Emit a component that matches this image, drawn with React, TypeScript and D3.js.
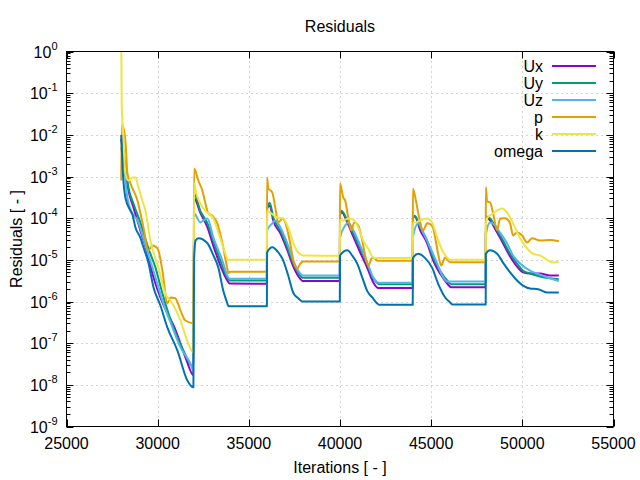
import React from 'react';
import * as d3 from 'd3';

type Pt = [number, number];

const xTicks = [25000, 30000, 35000, 40000, 45000, 50000, 55000];
const yExponents = [0, -1, -2, -3, -4, -5, -6, -7, -8, -9];
const seriesNames = ['Ux', 'Uy', 'Uz', 'p', 'k', 'omega'];
const seriesColors = ['#9400d3', '#009e73', '#56b4e9', '#e69f00', '#f0e442', '#0072b2'];

const Ux: Pt[] = [
  [28000, 8e-3], [28120, 3.2e-3], [28230, 1.4e-3], [28400, 4.6e-4], [28670, 1.8e-4], [29050, 5.1e-5],
  [29440, 1.4e-5], [29770, 3.8e-6], [30150, 1.25e-6], [30530, 5.2e-7], [30920, 2.4e-7], [31250, 9.8e-8],
  [31580, 3.9e-8], [31960, 1.7e-8],
  [32000, 3e-4], [32340, 1.35e-4], [32730, 6e-5], [33050, 2.2e-5], [33440, 7.3e-6], [33820, 3.2e-6], [33950, 2.7e-6], [35990, 2.66e-6],
  [36000, 1.7e-4], [36150, 2e-4], [36340, 8.8e-5], [36730, 4.3e-5], [37110, 1.7e-5], [37440, 6.9e-6], [37820, 3.5e-6], [37950, 3.1e-6], [39990, 3.1e-6],
  [40000, 1.2e-4], [40080, 1.4e-4], [40400, 7.9e-5], [40730, 3.6e-5], [41110, 1.5e-5], [41490, 6.5e-6], [41820, 2.9e-6], [42100, 2.1e-6], [43990, 2.1e-6],
  [44000, 1e-4], [44100, 1.1e-4], [44400, 5.1e-5], [44780, 2.5e-5], [45110, 9.6e-6], [45490, 4.7e-6], [45880, 2.7e-6], [46100, 2.2e-6], [47990, 2.2e-6],
  [48000, 1.1e-4], [48230, 8.8e-5], [48620, 4.5e-5], [48940, 2.5e-5], [49330, 1.2e-5], [49710, 6.9e-6], [50040, 5e-6],
  [50420, 4.7e-6], [50970, 4.7e-6], [51520, 4.2e-6], [52000, 4.2e-6],
];

const Uy: Pt[] = [
  [28000, 8e-3], [28120, 4.2e-3], [28230, 1.8e-3], [28400, 5.4e-4], [28670, 2.25e-4], [29050, 7.9e-5],
  [29490, 1.9e-5], [29880, 6.5e-6], [30260, 1.55e-6], [30860, 2.4e-7], [31410, 6.7e-8], [31960, 2.6e-8],
  [32000, 3.9e-4], [32340, 1.5e-4], [32730, 7.5e-5], [33050, 2.9e-5], [33440, 9.6e-6], [33820, 3.8e-6], [33950, 3.2e-6], [35990, 3.2e-6],
  [36000, 1.8e-4], [36150, 2.3e-4], [36340, 1.04e-4], [36730, 5.1e-5], [37110, 2e-5], [37440, 8.2e-6], [37820, 4.2e-6], [37950, 3.7e-6], [39990, 3.7e-6],
  [40000, 1.2e-4], [40080, 1.5e-4], [40400, 8.8e-5], [40730, 4.3e-5], [41110, 1.9e-5], [41490, 8.2e-6], [41820, 3.6e-6], [42040, 2.8e-6], [42150, 2.6e-6], [43990, 2.6e-6],
  [44000, 1e-4], [44100, 1.15e-4], [44400, 6e-5], [44780, 2.9e-5], [45110, 1.13e-5], [45490, 5.5e-6], [45880, 3.2e-6], [46100, 2.6e-6], [47990, 2.6e-6],
  [48000, 1.1e-4], [48230, 9.8e-5], [48620, 5.1e-5], [48940, 2.9e-5], [49330, 1.4e-5], [49710, 8.2e-6], [50040, 5.5e-6],
  [50420, 4.7e-6], [50970, 4e-6], [51520, 3.6e-6], [52000, 3.4e-6],
];

const Uz: Pt[] = [
  [28000, 5e-3], [28120, 2.4e-3], [28340, 3.1e-4], [28620, 1.3e-4], [28890, 9e-5], [29330, 2.2e-5],
  [29880, 3.8e-6], [30260, 1.05e-6], [30810, 2.4e-7], [31250, 7.9e-8], [31790, 3.3e-8], [31960, 2.2e-8],
  [32000, 1.3e-4], [32340, 7.9e-5], [32510, 8.8e-5], [32730, 9.8e-5], [33050, 3.45e-5], [33550, 9.6e-6], [33820, 4.2e-6], [33950, 3.5e-6], [35990, 3.5e-6],
  [36000, 5.1e-5], [36290, 7.5e-5], [36450, 8.8e-5], [36730, 6e-5], [37110, 2.5e-5], [37440, 9.6e-6], [37820, 4.7e-6], [37950, 4.2e-6], [39990, 4.2e-6],
  [40000, 3.4e-5], [40290, 6.7e-5], [40450, 7.9e-5], [40730, 5.1e-5], [41110, 2.2e-5], [41490, 8.6e-6], [41820, 3.8e-6], [42040, 2.9e-6], [42150, 2.8e-6], [43990, 2.8e-6],
  [44000, 3.4e-5], [44290, 7.5e-5], [44560, 4.5e-5], [44940, 2e-5], [45330, 8.2e-6], [45660, 3.8e-6], [45900, 3e-6], [47990, 3e-6],
  [48000, 4e-5], [48230, 7.9e-5], [48510, 6.7e-5], [48780, 4.5e-5], [49160, 2.5e-5], [49490, 1.27e-5], [49880, 8.2e-6],
  [50420, 5.5e-6], [50970, 4.4e-6], [51520, 3.6e-6], [52000, 3.1e-6],
];

const P: Pt[] = [
  [28000, 8e-4], [28040, 1.8e-2], [28230, 7.3e-3], [28340, 1.2e-3], [28510, 6.8e-4], [28890, 2.65e-4], [29220, 6e-5],
  [29490, 1.7e-5], [29710, 2.2e-5], [29990, 1.9e-5], [30260, 5.5e-6], [30530, 9e-7], [30700, 1.25e-6], [30970, 1.2e-6],
  [31250, 6.1e-7], [31520, 3.5e-7], [31960, 3e-7],
  [32000, 1.55e-3], [32230, 8e-4], [32450, 4.6e-4], [32620, 2.25e-4], [32780, 1.3e-4], [33000, 1.15e-4], [33270, 7.5e-5], [33550, 2.5e-5], [33820, 6.2e-6], [33880, 4.8e-6], [33950, 5.2e-6], [35990, 5.2e-6],
  [36000, 9.5e-4], [36070, 5.2e-4], [36290, 4.1e-4], [36450, 1.8e-4], [36620, 7.9e-5], [36840, 9.8e-5], [37000, 7.9e-5], [37270, 2.5e-5], [37440, 9.6e-6], [37660, 6.2e-6], [37820, 8.1e-6], [37990, 9.1e-6], [39990, 9.1e-6],
  [40000, 6.8e-4], [40180, 3.1e-4], [40290, 2.6e-4], [40450, 1.04e-4], [40620, 5.1e-5], [40780, 7.9e-5], [41000, 6.7e-5], [41220, 2.9e-5], [41380, 1.27e-5], [41550, 7.3e-6], [41770, 1.13e-5], [41930, 1.05e-5], [42050, 9.5e-6], [43990, 9.5e-6],
  [44000, 5.1e-4], [44180, 2.4e-4], [44340, 1.04e-4], [44560, 5.1e-5], [44780, 7.5e-5], [45050, 6.7e-5], [45220, 3.45e-5], [45380, 1.4e-5], [45550, 7.3e-6], [45770, 1.13e-5], [45930, 9.6e-6], [46050, 8.8e-6], [47990, 8.8e-6],
  [48000, 5.5e-4], [48070, 2.5e-4], [48230, 2.4e-4], [48400, 1.3e-4], [48620, 5.1e-5], [48780, 9.8e-5], [49050, 1e-4], [49330, 7.5e-5],
  [49490, 3.85e-5], [49710, 4.5e-5], [49990, 3.85e-5], [50260, 2.6e-5], [50530, 3.3e-5], [50970, 2.9e-5], [51520, 3e-5], [52000, 2.8e-5],
];

const K: Pt[] = [
  [28000, 2], [28030, 5e-2], [28100, 1.3e-2], [28230, 1.2e-3], [28400, 8e-4], [28620, 9.5e-4], [28780, 9.5e-4], [28950, 5.4e-4],
  [29160, 2.65e-4], [29330, 1.5e-4], [29600, 2.9e-5], [30040, 6.5e-6], [30420, 1.55e-6], [30810, 9e-7], [31250, 3.5e-7],
  [31680, 9.8e-8], [31960, 6e-8],
  [32000, 7e-4], [32120, 3.9e-4], [32340, 2.25e-4], [32620, 1.5e-4], [32780, 1.3e-4], [33050, 9.8e-5], [33330, 4.5e-5], [33600, 2e-5], [33880, 1e-5], [35990, 1e-5],
  [36000, 1.5e-4], [36180, 1.35e-4], [36560, 1.04e-4], [36890, 9.8e-5], [37160, 6e-5], [37440, 2.5e-5], [37710, 1.5e-5], [37990, 1.27e-5], [39990, 1.26e-5],
  [40000, 9e-5], [40180, 8.8e-5], [40450, 9.8e-5], [40730, 9.3e-5], [41000, 6e-5], [41270, 2.9e-5], [41550, 1.87e-5], [41820, 1.13e-5], [42000, 1.1e-5], [43990, 1.1e-5],
  [44000, 7.9e-5], [44120, 7.9e-5], [44400, 8.8e-5], [44780, 9.8e-5], [45050, 7.9e-5], [45330, 3.45e-5], [45600, 1.7e-5], [45880, 1.13e-5], [46000, 1.0e-5], [47990, 1.0e-5],
  [48000, 6.7e-5], [48070, 1e-4], [48400, 1.3e-4], [48890, 1.7e-4], [49160, 1.37e-4], [49490, 7.5e-5], [49880, 3.3e-5],
  [50260, 1.87e-5], [50590, 1.4e-5], [50970, 1.27e-5], [51360, 1e-5], [51680, 8.6e-6], [52000, 9e-6],
];

const Omega: Pt[] = [
  [28000, 1e-2], [28080, 1.5e-3], [28230, 3.1e-4], [28510, 1.5e-4], [28620, 1.2e-4], [28780, 6e-5], [29050, 3.4e-5],
  [29220, 2e-5], [29490, 8.6e-6], [29770, 2.2e-6], [30150, 8e-7], [30530, 2.4e-7], [31080, 6.7e-8], [31630, 1.27e-8], [31960, 8.7e-9],
  [32000, 1.1e-5], [32080, 2.9e-5], [32230, 3.3e-5], [32730, 2.5e-5], [33050, 1.3e-5], [33330, 6.5e-6], [33600, 1.8e-6], [33820, 9e-7], [33880, 7.7e-7], [35990, 7.7e-7],
  [36000, 1.5e-5], [36290, 2e-5], [36620, 1.5e-5], [36890, 9.6e-6], [37160, 4.2e-6], [37440, 1.6e-6], [37710, 1.2e-6], [37930, 1.0e-6], [39990, 1.0e-6],
  [40000, 1.27e-5], [40400, 1.7e-5], [40670, 1.27e-5], [40940, 8.2e-6], [41220, 3.8e-6], [41490, 1.8e-6], [41770, 1.25e-6], [42040, 9e-7], [42150, 8.3e-7], [43990, 8.3e-7],
  [44000, 1.1e-5], [44290, 1.4e-5], [44670, 1.1e-5], [45050, 6.5e-6], [45380, 2.7e-6], [45770, 1.25e-6], [46040, 9.5e-7], [46150, 8.5e-7], [47990, 8.5e-7],
  [48000, 1.4e-5], [48230, 1.7e-5], [48620, 1.4e-5], [48940, 8.6e-6], [49330, 5e-6], [49710, 3.2e-6], [50040, 2.4e-6],
  [50420, 2.05e-6], [50810, 2e-6], [51360, 1.65e-6], [52000, 1.65e-6],
];

const seriesData: Pt[][] = [Ux, Uy, Uz, P, K, Omega];

const FONT = '"Liberation Sans", Arial, Helvetica, sans-serif';

export default function App() {
  const W = 640;
  const H = 480;
  const left = 66.5;
  const right = 613.5;
  const top = 51.5;
  const bottom = 426.5;

  const x = d3.scaleLinear().domain([25000, 55000]).range([left, right]);
  const y = d3.scaleLog().domain([1e-9, 1]).range([bottom, top]);
  const line = d3
    .line<Pt>()
    .x((d) => x(d[0]))
    .y((d) => y(d[1]))
    .curve(d3.curveMonotoneX);

  const minorTicks: number[] = [];
  for (let e = -9; e < 0; e++) {
    for (let m = 2; m <= 9; m++) minorTicks.push(m * Math.pow(10, e));
  }

  const gridColor = '#a8a8a8';
  const majorLen = 7;
  const minorLen = 4;

  return (
    <svg
      width={W}
      height={H}
      style={{ position: 'fixed', left: 0, top: 0, background: '#fff' }}
      fontFamily={FONT}
    >
      <defs>
        <clipPath id="plotclip">
          <rect x={left} y={top} width={right - left} height={bottom - top} />
        </clipPath>
      </defs>
      <rect x={0} y={0} width={W} height={H} fill="#fff" />

      {/* grid */}
      <g stroke={gridColor} strokeWidth={1} strokeDasharray="1,4">
        {xTicks.slice(1, -1).map((t) => (
          <line key={'gx' + t} x1={Math.round(x(t)) + 0.5} x2={Math.round(x(t)) + 0.5} y1={top} y2={bottom} />
        ))}
        {yExponents.slice(1, -1).map((e) => (
          <line key={'gy' + e} x1={left} x2={right} y1={Math.round(y(Math.pow(10, e))) + 0.5} y2={Math.round(y(Math.pow(10, e))) + 0.5} />
        ))}
      </g>

      {/* ticks */}
      <g stroke="#000" strokeWidth={1}>
        {xTicks.map((t) => {
          const px = Math.round(x(t)) + 0.5;
          return (
            <g key={'tx' + t}>
              <line x1={px} x2={px} y1={bottom} y2={bottom - majorLen} />
              <line x1={px} x2={px} y1={top} y2={top + majorLen} />
            </g>
          );
        })}
        {yExponents.map((e) => {
          const py = Math.round(y(Math.pow(10, e))) + 0.5;
          return (
            <g key={'ty' + e}>
              <line x1={left} x2={left + majorLen} y1={py} y2={py} />
              <line x1={right} x2={right - majorLen} y1={py} y2={py} />
            </g>
          );
        })}
        {minorTicks.map((v, i) => {
          const py = Math.round(y(v)) + 0.5;
          return (
            <g key={'mt' + i}>
              <line x1={left} x2={left + minorLen} y1={py} y2={py} />
              <line x1={right} x2={right - minorLen} y1={py} y2={py} />
            </g>
          );
        })}
      </g>

      {/* data */}
      <g clipPath="url(#plotclip)" fill="none" strokeWidth={2} strokeLinejoin="round">
        {seriesData.map((s, i) => (
          <path key={seriesNames[i]} d={line(s) || ''} stroke={seriesColors[i]} />
        ))}
      </g>

      {/* border */}
      <rect x={left} y={top} width={right - left} height={bottom - top} fill="none" stroke="#000" strokeWidth={1} />

      {/* tick labels */}
      <g fontSize={16} fill="#000">
        {xTicks.map((t) => (
          <text key={'lx' + t} x={x(t)} y={bottom + 22} textAnchor="middle">
            {t}
          </text>
        ))}
        {yExponents.map((e) => (
          <text key={'ly' + e} x={left - 9} y={y(Math.pow(10, e)) + 6} textAnchor="end">
            <tspan>10</tspan>
            <tspan dy={-8} fontSize={11}>
              {String(e)}
            </tspan>
          </text>
        ))}
      </g>

      {/* titles */}
      <text x={(left + right) / 2} y={32} textAnchor="middle" fontSize={16} fill="#000">
        Residuals
      </text>
      <text x={(left + right) / 2} y={473} textAnchor="middle" fontSize={16} fill="#000">
        Iterations [ - ]
      </text>
      <text
        transform={`translate(22, ${(top + bottom) / 2}) rotate(-90)`}
        textAnchor="middle"
        fontSize={16}
        fill="#000"
      >
        Residuals [ - ]
      </text>

      {/* legend */}
      <g fontSize={16}>
        {seriesNames.map((n, i) => {
          const ly = 66 + i * 17;
          return (
            <g key={'lg' + n}>
              <text x={543} y={ly + 6} textAnchor="end" fill="#000">
                {n}
              </text>
              <line x1={552} x2={596} y1={ly} y2={ly} stroke={seriesColors[i]} strokeWidth={2} />
            </g>
          );
        })}
      </g>
    </svg>
  );
}
